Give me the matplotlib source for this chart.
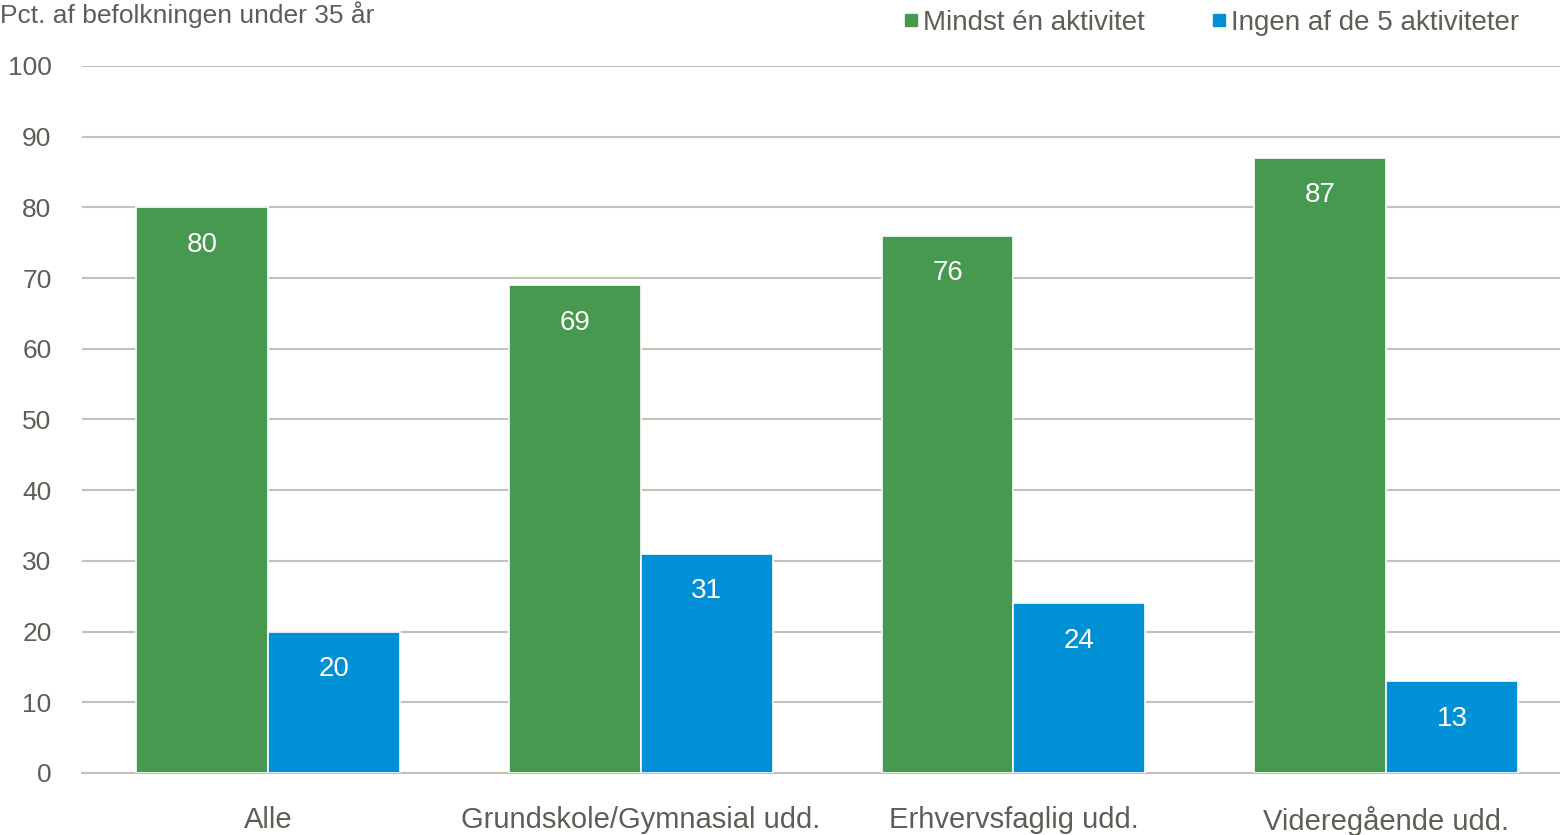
import numpy as np
import matplotlib.pyplot as plt
from matplotlib import font_manager

names = {f.name for f in font_manager.fontManager.ttflist}
narrow = 'Liberation Sans Narrow' if 'Liberation Sans Narrow' in names else 'Liberation Sans'
plt.rcParams['font.family'] = [narrow, 'DejaVu Sans']

categories = ['Alle', 'Grundskole/Gymnasial udd.', 'Erhvervsfaglig udd.', 'Videregående udd.']
mindst = [80, 69, 76, 87]
ingen = [20, 31, 24, 13]
series_names = ['Mindst én aktivitet', 'Ingen af de 5 aktiviteter']

green = '#46994F'
blue = '#0090D6'
grey = '#5E5E56'

fig = plt.figure(figsize=(15.6, 8.35), dpi=100)
ax = fig.add_axes([0.0526, 0.0743, 0.9474, 0.8467])

x = np.arange(len(categories))
w = 0.354
b1 = ax.bar(x - w / 2, mindst, w, color=green, edgecolor='white', linewidth=1.2, zorder=3)
b2 = ax.bar(x + w / 2, ingen, w, color=blue, edgecolor='white', linewidth=1.2, zorder=3)

for bars, vals in ((b1, mindst), (b2, ingen)):
    for r, v in zip(bars, vals):
        ax.text(r.get_x() + r.get_width() / 2, v - 5.3, str(v), ha='center', va='center',
                color='white', fontsize=20, zorder=4)

ax.set_xlim(-0.5, 3.467)
ax.set_ylim(0, 100)
ax.set_yticks(range(0, 101, 10))
ax.yaxis.grid(True, color='#C3C2B6', linewidth=1.5, zorder=0)
ax.set_axisbelow(True)
for s in ['top', 'right', 'left']:
    ax.spines[s].set_visible(False)
ax.spines['bottom'].set_color('#C3C2B6')
ax.spines['bottom'].set_linewidth(1.5)
ax.tick_params(axis='both', length=0, colors=grey, labelsize=19)
ax.tick_params(axis='y', pad=22)
ax.tick_params(axis='x', pad=24, labelsize=21)
ax.set_xticks(x)
ax.set_xticklabels(categories)

fig.text(0.0, 0.999, 'Pct. af befolkningen under 35 år', ha='left', va='top',
         color=grey, fontsize=19)

h1 = plt.Line2D([], [], marker='s', color=green, linestyle='none', markersize=8)
h2 = plt.Line2D([], [], marker='s', color=blue, linestyle='none', markersize=8)
leg = fig.legend([h1, h2], series_names, loc='upper right', bbox_to_anchor=(0.99, 1.018),
                 ncol=2, frameon=False, fontsize=20, handletextpad=0.1,
                 columnspacing=2.3, handlelength=0.7)
for t in leg.get_texts():
    t.set_color(grey)

fig.savefig('out.png', dpi=100)
